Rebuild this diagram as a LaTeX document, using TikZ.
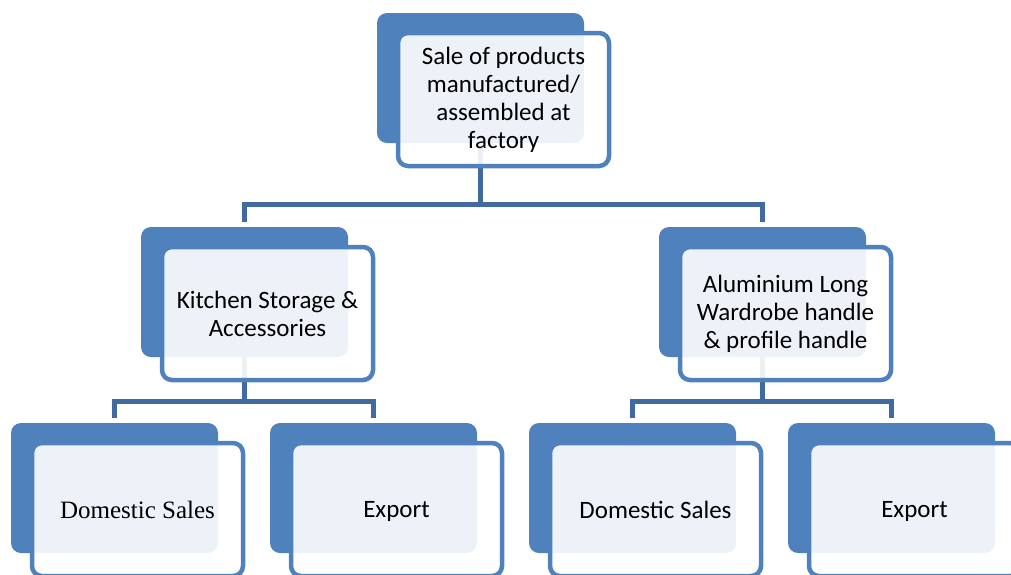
\documentclass[tikz,border=0pt]{standalone}
\usepackage{fontspec}
\setmainfont{Carlito}
\newfontfamily\timesfont{Liberation Serif}
\usetikzlibrary{calc,backgrounds}
\definecolor{acc}{RGB}{79,129,189}
\definecolor{conncol}{RGB}{64,106,160}
\begin{document}
\begin{tikzpicture}[x=1pt,y=-1pt,
  backbox/.style={rectangle, rounded corners=10pt, fill=acc, minimum width=207pt, minimum height=130pt, anchor=north west, inner sep=0pt, outer sep=0pt},
  frontbox/.style={rectangle, rounded corners=10pt, draw=acc, line width=4.5pt, fill=white, fill opacity=0.9, text opacity=1, minimum width=211pt, minimum height=133pt, anchor=north west, align=center, font=\fontsize{25}{28}\selectfont, inner sep=2pt, outer sep=0pt},
  oneline/.style={text depth=0pt},
  conn/.style={draw=conncol, line width=5pt}]
\useasboundingbox (0,0) rectangle (1011,574);
\clip (0,0) rectangle (1011,574);
% back boxes
\node[backbox] (root) at (377,13) {};
\node[backbox] (kit) at (141,227) {};
\node[backbox] (alu) at (659,227) {};
\node[backbox] (d1) at (11,423) {};
\node[backbox] (e1) at (270,423) {};
\node[backbox] (d2) at (529,423) {};
\node[backbox] (e2) at (788,423) {};
% connectors
\begin{pgfonlayer}{background}
\coordinate (h1) at (0,204.5);
\coordinate (j1) at (root.center |- h1);
\draw[conn] (root.center) -- (j1);
\draw[conn, shorten <=5pt, shorten >=5pt] (kit.north) |- (j1) -| (alu.north);
\coordinate (h2) at (0,401);
\coordinate (j2) at (kit.center |- h2);
\draw[conn] (kit.center) -- (j2);
\draw[conn, shorten <=5pt, shorten >=5pt] (d1.north) |- (j2) -| (e1.north);
\coordinate (j3) at (alu.center |- h2);
\draw[conn] (alu.center) -- (j3);
\draw[conn, shorten <=5pt, shorten >=5pt] (d2.north) |- (j3) -| (e2.north);
\end{pgfonlayer}
% front boxes with text
\node[frontbox] (rootf) at (398,33) {Sale of products\\manufactured/\\assembled at\\factory};
\node[frontbox] (kitf) at (162,247) {Kitchen Storage \&\\Accessories};
\node[frontbox] (aluf) at (680,247) {Aluminium Long\\Wardrobe handle\\\& profile handle};
\node[frontbox, oneline, font=\timesfont\fontsize{25}{28}\selectfont] (d1f) at (32,443) {Domestic Sales};
\node[frontbox, oneline] (e1f) at (291,443) {Export};
\node[frontbox, oneline] (d2f) at (550,443) {Domestic Sales};
\node[frontbox, oneline] (e2f) at (809,443) {Export};
\end{tikzpicture}
\end{document}
